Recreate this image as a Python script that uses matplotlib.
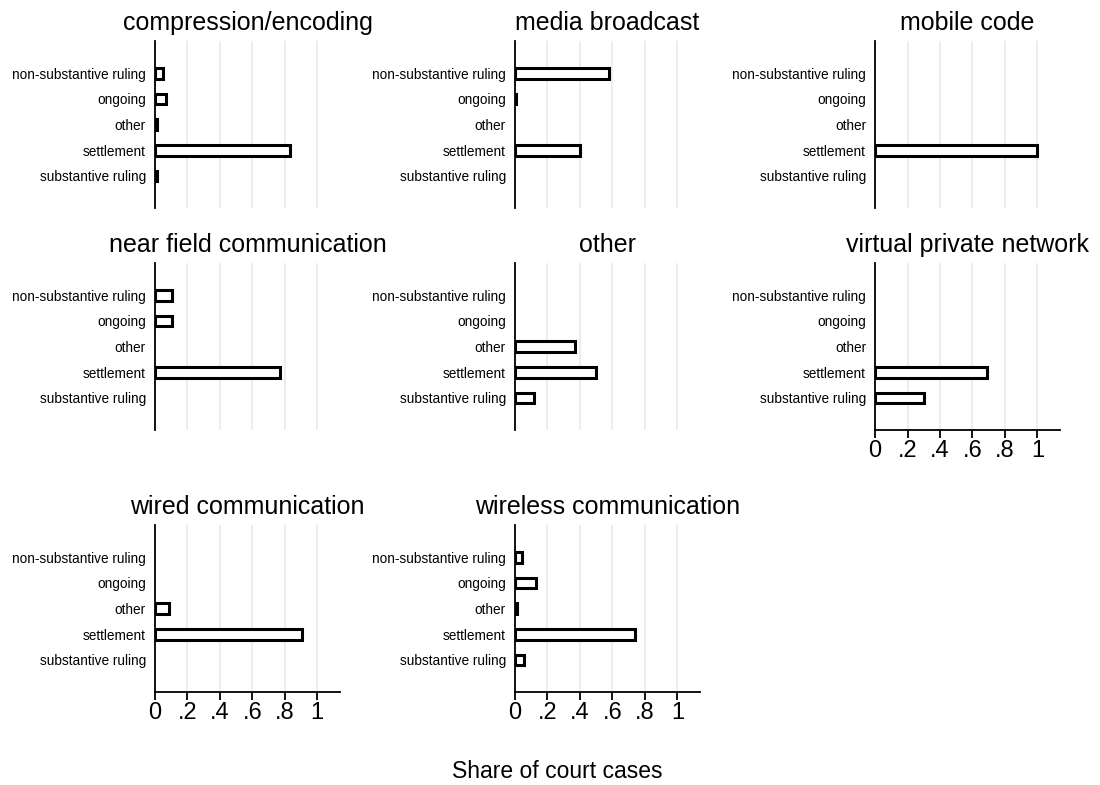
import matplotlib.pyplot as plt
import numpy as np

plt.rcParams['font.family'] = ['Liberation Sans', 'DejaVu Sans']

# outcome categories (top to bottom)
outcomes = ["non-substantive ruling", "ongoing", "other", "settlement", "substantive ruling"]

# technology panels, in reading order
panels = ["compression/encoding", "media broadcast", "mobile code",
          "near field communication", "other", "virtual private network",
          "wired communication", "wireless communication"]

# share of court cases per outcome (same order as outcomes), NaN = no bar
compression = [0.05, 0.065, 0.012, 0.83, 0.012]
media = [0.58, 0.008, np.nan, 0.40, np.nan]
mobile = [np.nan, np.nan, np.nan, 1.0, np.nan]
nearfield = [0.105, 0.105, np.nan, 0.77, np.nan]
other_tech = [np.nan, np.nan, 0.37, 0.50, 0.12]
vpn = [np.nan, np.nan, np.nan, 0.69, 0.30]
wired = [np.nan, np.nan, 0.086, 0.905, np.nan]
wireless = [0.045, 0.13, 0.01, 0.74, 0.057]

shares = [compression, media, mobile, nearfield, other_tech, vpn, wired, wireless]

xticks = [0, 0.2, 0.4, 0.6, 0.8, 1.0]
xticklabels = ["0", ".2", ".4", ".6", ".8", "1"]

fig = plt.figure(figsize=(11, 7.85), dpi=100)

lefts = [0.1409, 0.4682, 0.7955]
bottoms = [0.735, 0.4522, 0.1185]
w = 0.1682
h = 0.2125

ypos = np.arange(len(outcomes))

for i, (name, vals) in enumerate(zip(panels, shares)):
    r, c = divmod(i, 3)
    ax = fig.add_axes([lefts[c], bottoms[r], w, h])
    v = np.array(vals, dtype=float)
    mask = ~np.isnan(v)
    ax.barh(ypos[mask], v[mask], height=0.42, color='white',
            edgecolor='black', linewidth=2.2, zorder=3)
    ax.set_ylim(len(outcomes) - 1 + 1.25, -1.25)
    ax.set_xlim(0, 1.14)
    ax.set_yticks(ypos)
    ax.set_yticklabels(outcomes, fontsize=9.8)
    ax.tick_params(axis='y', length=0, pad=6.5)
    for gx in xticks[1:]:
        ax.axvline(gx, color='#e4ecf0', linewidth=1.2, zorder=1)
    for s in ['top', 'right']:
        ax.spines[s].set_visible(False)
    ax.spines['left'].set_linewidth(1.3)
    ax.spines['left'].set_zorder(4)
    is_bottom = (r == 2) or (r == 1 and c == 2)
    if is_bottom:
        ax.spines['bottom'].set_linewidth(1.3)
        ax.set_xticks(xticks)
        ax.set_xticklabels(xticklabels, fontsize=17)
        ax.tick_params(axis='x', length=5.8, width=1.3, pad=1.5)
    else:
        ax.spines['bottom'].set_visible(False)
        ax.set_xticks([])
    ax.set_title(name, fontsize=18, pad=8)

fig.text(0.5064, 0.009, "Share of court cases", ha='center', va='baseline', fontsize=16.5)

fig.savefig("out.png", dpi=100, facecolor='white')
